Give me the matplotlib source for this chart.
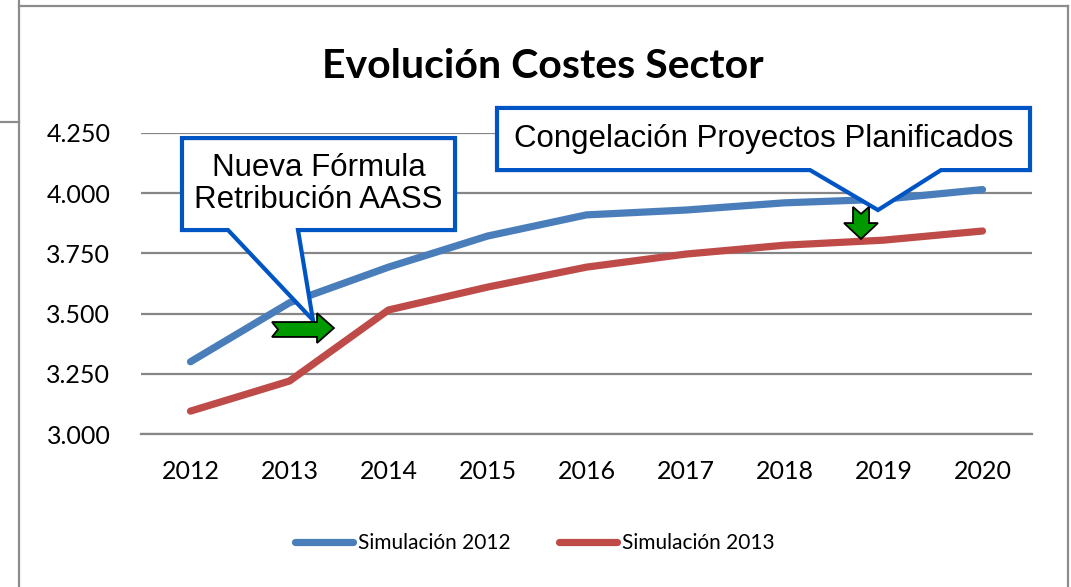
import matplotlib
matplotlib.use("Agg")
import matplotlib.pyplot as plt
from matplotlib.patches import Polygon
from matplotlib.lines import Line2D
from matplotlib.ticker import FuncFormatter

# datos
years = ["2012", "2013", "2014", "2015", "2016", "2017", "2018", "2019", "2020"]
sim_2012 = [3300, 3545, 3693, 3822, 3910, 3930, 3960, 3975, 4015]
sim_2013 = [3095, 3220, 3515, 3610, 3693, 3747, 3784, 3805, 3843]
y_ticks = [3000, 3250, 3500, 3750, 4000, 4250]

blue = "#4A7EBB"
red = "#BE4B48"
grid_gray = "#868686"
callout_blue = "#0055C4"
arrow_green = "#009900"

fig = plt.figure(figsize=(10.71, 5.87), dpi=100)
ax = fig.add_axes([141 / 1071, 1 - 434 / 587, 891 / 1071, 301 / 587])

x = [i + 0.5 for i in range(len(years))]
ax.plot(x, sim_2012, color=blue, lw=5.2, solid_capstyle="round", solid_joinstyle="round",
        label="Simulación 2012", zorder=3)
ax.plot(x, sim_2013, color=red, lw=5.2, solid_capstyle="round", solid_joinstyle="round",
        label="Simulación 2013", zorder=3)

ax.set_xlim(0, len(years))
ax.set_ylim(3000, 4250)
ax.set_xticks(x)
ax.set_xticklabels(years)
ax.set_yticks(y_ticks)
ax.yaxis.set_major_formatter(FuncFormatter(lambda v, p: f"{v:,.0f}".replace(",", ".")))
ax.tick_params(length=0, labelsize=18)
ax.tick_params(axis="y", pad=22)
ax.tick_params(axis="x", pad=19)
for lab in ax.get_xticklabels() + ax.get_yticklabels():
    lab.set_fontfamily("Lato")
ax.grid(axis="y", color=grid_gray, lw=1.6, zorder=0)
ax.set_axisbelow(True)
for s in ["top", "right", "left"]:
    ax.spines[s].set_visible(False)
ax.spines["bottom"].set_color(grid_gray)
ax.spines["bottom"].set_linewidth(1.6)

fig.text(543 / 1071, 1 - 67 / 587, "Evolución Costes Sector", ha="center", va="center",
         fontsize=29.5, fontweight="bold", family="Lato")

# callouts (en coordenadas de datos)
def callout(x0, x1, ytop, ybot, b0, b1, tip, text, fs):
    pts = [(x0, ytop), (x1, ytop), (x1, ybot), (b1, ybot), tip, (b0, ybot), (x0, ybot)]
    ax.add_patch(Polygon(pts, closed=True, facecolor="white", edgecolor=callout_blue,
                         lw=3, joinstyle="miter", clip_on=False, zorder=5))
    ax.text((x0 + x1) / 2, (ytop + ybot) / 2, text, ha="center", va="center",
            fontsize=fs, family="Liberation Sans", linespacing=1.1, zorder=6, clip_on=False)

callout(0.414, 3.172, 4229, 3847, 0.879, 1.586, (1.737, 3473),
        "Nueva Fórmula\nRetribución AASS", 22.5)
callout(3.596, 8.980, 4354, 4096, 6.758, 8.081, (7.444, 3930),
        "Congelación Proyectos Planificados", 22.5)

right_arrow = [(1.323, 3465), (1.778, 3465), (1.778, 3502), (1.949, 3440), (1.778, 3378),
               (1.778, 3403), (1.323, 3403), (1.384, 3434)]
down_arrow = [(7.192, 3943), (7.273, 3914), (7.354, 3943), (7.354, 3876), (7.444, 3876),
              (7.273, 3810), (7.101, 3876), (7.192, 3876)]
for shape in [right_arrow, down_arrow]:
    ax.add_patch(Polygon(shape, closed=True, facecolor=arrow_green, edgecolor="black",
                         lw=1.3, clip_on=False, zorder=7))

leg = fig.legend(loc="center", bbox_to_anchor=(535 / 1071, 1 - 543 / 587), ncol=2,
                 frameon=False, handlelength=2.8, handletextpad=0.25, columnspacing=2.3,
                 prop={"family": "Lato", "size": 15})

# marco del grafico
frame_gray = "#8C8C8C"
fig.add_artist(Line2D([19 / 1071, 19 / 1071], [0, 1], color=frame_gray, lw=1.6))
fig.add_artist(Line2D([0, 19 / 1071], [1 - 122 / 587, 1 - 122 / 587], color=frame_gray, lw=1.6))
fig.add_artist(Line2D([19 / 1071, 1068 / 1071], [1 - 6 / 587, 1 - 6 / 587], color=frame_gray, lw=1.6))
fig.add_artist(Line2D([1068 / 1071, 1068 / 1071], [1 - 6 / 587, 0], color=frame_gray, lw=1.6))

fig.savefig("out.png", dpi=100)
